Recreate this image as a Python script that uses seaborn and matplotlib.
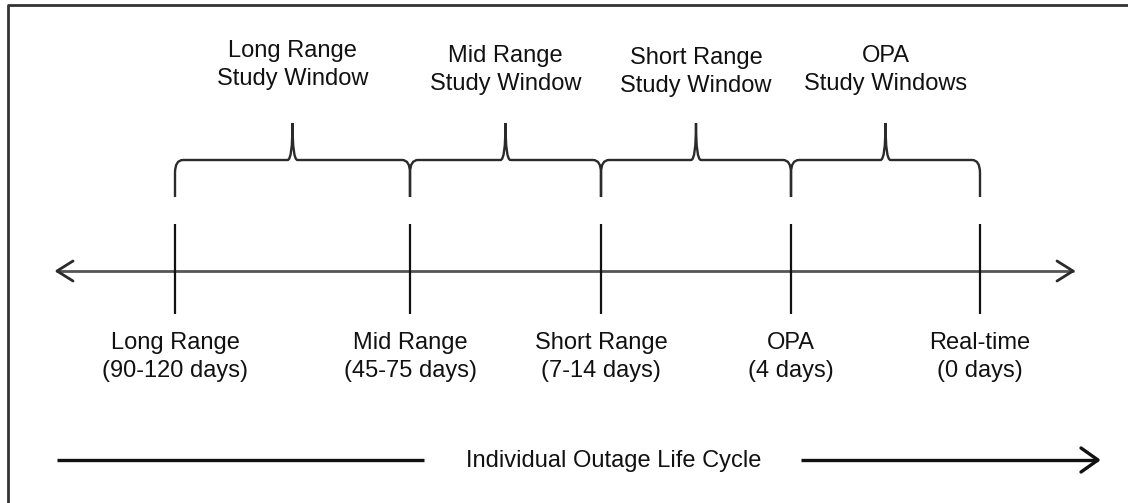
import numpy as np
import matplotlib
matplotlib.use("Agg")
import matplotlib.pyplot as plt
from matplotlib.path import Path
from matplotlib.patches import PathPatch
import seaborn as sns

# --- DATA ---
milestones = ["Long Range", "Mid Range", "Short Range", "OPA", "Real-time"]
lead_times = ["(90-120 days)", "(45-75 days)", "(7-14 days)", "(4 days)", "(0 days)"]
milestone_x = [175, 410, 601, 791, 980]
windows = ["Long Range\nStudy Window", "Mid Range\nStudy Window",
           "Short Range\nStudy Window", "OPA\nStudy Windows"]
window_label_y = [65, 70, 72, 70]
footer = "Individual Outage Life Cycle"

# --- STYLE ---
sns.set_theme(style="white")
plt.rcParams["font.family"] = ["Liberation Sans", "DejaVu Sans"]
INK = "#111111"
LINE = "#2b2b2b"
FS = 17

fig = plt.figure(figsize=(11.28, 5.03), dpi=100)
ax = fig.add_axes([0, 0, 1, 1])
ax.set_xlim(0, 1128)
ax.set_ylim(503, 0)
ax.axis("off")

# frame (only top/left visible in the crop)
ax.plot([8, 8, 1128], [503, 5, 5], color="#333333", lw=2.0, solid_capstyle="butt")

# main timeline with open arrowheads
axis_y = 271
ax.plot([57, 1073], [axis_y, axis_y], color="#555555", lw=2.0)
ax.plot([73, 57, 73], [axis_y - 10, axis_y, axis_y + 10], color=LINE, lw=2.0)
ax.plot([1057, 1073, 1057], [axis_y - 10, axis_y, axis_y + 10], color=LINE, lw=2.0)

# milestone ticks and labels
ax.vlines(milestone_x, 224, 314, color=INK, lw=1.6)
for x, name, lt in zip(milestone_x, milestones, lead_times):
    ax.text(x, 357, f"{name}\n{lt}", ha="center", va="center", fontsize=FS,
            color=INK, linespacing=1.38)


def brace(x0, x1, y_end=197, y_bar=160, y_tip=123):
    xm = (x0 + x1) / 2
    verts = [
        (x0, y_end), (x0, y_bar + 13),
        (x0, y_bar), (x0 + 8, y_bar),
        (xm - 5, y_bar),
        (xm, y_bar), (xm, y_tip),
        (xm, y_bar), (xm + 5, y_bar),
        (x1 - 8, y_bar),
        (x1, y_bar), (x1, y_bar + 13),
        (x1, y_end),
    ]
    codes = [Path.MOVETO, Path.LINETO,
             Path.CURVE3, Path.CURVE3,
             Path.LINETO,
             Path.CURVE3, Path.CURVE3,
             Path.CURVE3, Path.CURVE3,
             Path.LINETO,
             Path.CURVE3, Path.CURVE3,
             Path.LINETO]
    ax.add_patch(PathPatch(Path(verts, codes), fill=False, edgecolor=LINE,
                           lw=1.7, capstyle="butt"))
    return xm


for i, label in enumerate(windows):
    xm = brace(milestone_x[i], milestone_x[i + 1])
    ax.text(xm, window_label_y[i], label, ha="center", va="center", fontsize=FS,
            color=INK, linespacing=1.38)

# footer arrow
foot_y = 460
ax.plot([57, 424], [foot_y, foot_y], color=INK, lw=2.4, solid_capstyle="butt")
ax.plot([801, 1098], [foot_y, foot_y], color=INK, lw=2.4, solid_capstyle="butt")
ax.plot([1081, 1098, 1081], [foot_y - 12, foot_y, foot_y + 12], color=INK, lw=2.4)
ax.text(614, foot_y + 1, footer, ha="center", va="center", fontsize=FS, color=INK)

fig.savefig("out.png", dpi=100)
